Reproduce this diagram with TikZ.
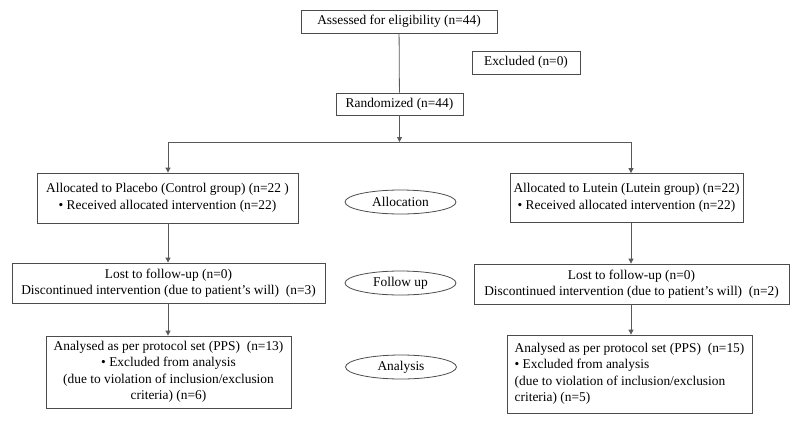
\documentclass[tikz,border=0pt]{standalone}
\usepackage{fontspec}
\setmainfont{Liberation Serif}
\usetikzlibrary{shapes.geometric,arrows.meta}
\begin{document}
\begin{tikzpicture}[x=1pt,y=-1pt,
  every node/.style={font=\fontsize{13.4}{16.5}\selectfont},
  box/.style={draw=black!70, line width=0.8pt, rectangle, inner sep=2pt, align=center},
  stage/.style={draw=black!70, line width=0.8pt, ellipse, inner sep=0pt, minimum width=111pt, minimum height=24pt},
  conn/.style={draw=black!65, line width=0.8pt},
  arr/.style={conn, -{Triangle[width=5pt,length=5pt]}}]
\useasboundingbox (0,0) rectangle (800,424);
\node[box, minimum width=196pt, minimum height=23pt] (assess) at (399,21.5) {Assessed for eligibility (n=44)};
\node[box, minimum width=108pt, minimum height=23pt] (excl) at (526,62.5) {Excluded (n=0)};
\node[box, minimum width=127pt, minimum height=22pt] (rand) at (399.5,104) {Randomized (n=44)};
\node[box, minimum width=261pt, minimum height=50pt] (lalloc) at (167.5,198) {Allocated to Placebo (Control group) (n=22 )\\\textbullet{} Received allocated intervention (n=22)};
\node[box, minimum width=233pt, minimum height=49pt] (ralloc) at (626.5,198) {Allocated to Lutein (Lutein group) (n=22)\\\textbullet{} Received allocated intervention (n=22)};
\node[box, minimum width=313pt, minimum height=40pt] (llost) at (168.5,283) {Lost to follow-up (n=0)\\Discontinued intervention (due to patient’s will)\ \ (n=3)};
\node[box, minimum width=315pt, minimum height=40pt] (rlost) at (631.5,284) {Lost to follow-up (n=0)\\Discontinued intervention (due to patient’s will)\ \ (n=2)};
\node[box, minimum width=245pt, minimum height=72pt] (lana) at (168.5,372) {Analysed as per protocol set (PPS)\ \ (n=13)\\\textbullet{} Excluded from analysis\\(due to violation of inclusion/exclusion\\criteria) (n=6)};
\node[box, minimum width=245pt, minimum height=78pt, align=left] (rana) at (629.5,374) {Analysed as per protocol set (PPS)\ \ (n=15)\\\textbullet{} Excluded from analysis\\(due to violation of inclusion/exclusion\\criteria) (n=5)};
\node[stage] (salloc) at (400.5,202) {Allocation};
\node[stage] (sfollow) at (400.5,283) {Follow up};
\node[stage] (sana) at (401,367) {Analysis};
\coordinate (jm) at (399.5,142);
\coordinate (jl) at (168,142);
\coordinate (jr) at (631,142);
\draw[conn] (assess) -- (rand);
\draw[arr] (rand) -- (jm);
\draw[conn] (jl) -- (jr);
\draw[arr] (jl) -- (jl |- lalloc.north);
\draw[arr] (jr) -- (jr |- ralloc.north);
\draw[arr] (jl |- lalloc.south) -- (jl |- llost.north);
\draw[arr] (jr |- ralloc.south) -- (jr |- rlost.north);
\draw[arr] (jl |- llost.south) -- (jl |- lana.north);
\draw[arr] (jr |- rlost.south) -- (jr |- rana.north);
\end{tikzpicture}
\end{document}
